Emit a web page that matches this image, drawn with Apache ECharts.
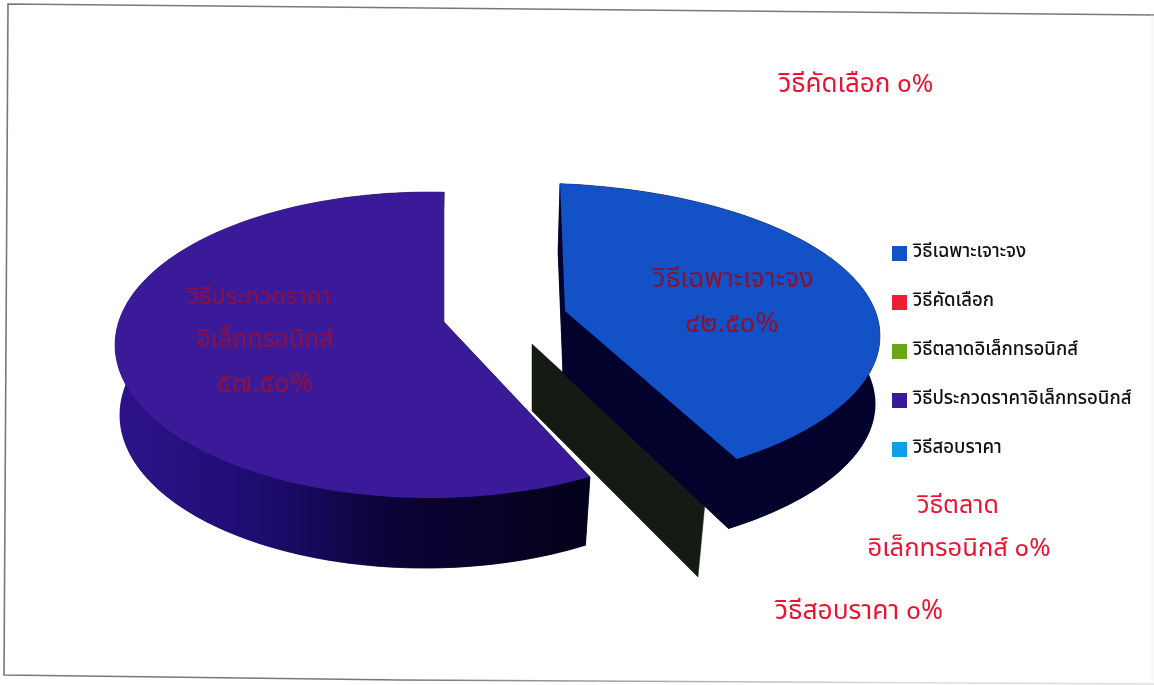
<!DOCTYPE html>
<html><head><meta charset="utf-8">
<style>html,body{margin:0;padding:0;background:#fff}#c{width:1154px;height:685px}</style>
<script src="https://cdn.jsdelivr.net/npm/echarts@6/dist/echarts.min.js"></script></head>
<body><div id="c"></div>
<script>
// ---- data ----
const categories = ['วิธีเฉพาะเจาะจง','วิธีคัดเลือก','วิธีตลาดอิเล็กทรอนิกส์','วิธีประกวดราคาอิเล็กทรอนิกส์','วิธีสอบราคา'];
const values = [42.5, 0, 0, 57.5, 0];
const decimals = [2, 0, 0, 2, 0];
const topColors = ['#1252c6','#ee1c34','#6aa51c','#3b1a9a','#0e9fe6'];

// ---- layout: how each slice is projected (not data) ----
const FONT = '"Noto Sans Thai","Noto Sans Thai Looped","Loma","Noto Sans","DejaVu Sans",sans-serif';
const geometry = [
  {top:{apex:[565,311], c:[527,336], a:353, b:153, ray:2.20, lean:0.039},
   bot:{apex:[563,373], c:[525,404], a:350, b:153, ray:2.01, lean:0.04}, side:'#02022c'},
  null,
  {top:{apex:[532,344], c:[538,372], a:323, b:153, ray:2.135, lean:0},
   bot:{apex:[532,411], c:[531,446], a:323, b:153, ray:1.9625, lean:0}, side:'#151b14', cutOnly:true},
  {top:{apex:[444,322], c:[430,345], a:315, b:153, ray:1.85, lean:0},
   bot:{apex:[442,384], c:[425,415], a:305, b:153, ray:1.747, lean:0},
   side:new echarts.graphic.LinearGradient(130,0,560,0,[
     {offset:0,color:'#2c1288'},{offset:0.3,color:'#1e0c70'},{offset:0.6,color:'#0c0338'},{offset:1,color:'#04011c'}],true)},
  null
];
const labelLayout = [
  {lines:[['วิธีเฉพาะเจาะจง',733,282,27],['%v',732,326,28]], color:'#8a1230'},
  {lines:[['วิธีคัดเลือก %v',856,87,26]], color:'#ea1432'},
  {lines:[['วิธีตลาด',958,508,25],['อิเล็กทรอนิกส์ %v',959,551,25.6]], color:'#ea1432'},
  {lines:[['วิธีประกวดราคา',259,299,23.6],['อิเล็กทรอนิกส์',265,342,25],['%v',265,386,28]], color:'#8c1040'},
  {lines:[['วิธีสอบราคา %v',859,614,26.4]], color:'#ea1432'}
];

const thaiDigits = '๐๑๒๓๔๕๖๗๘๙';
function thaiNum(v,d){return v.toFixed(d).replace(/\d/g,m=>thaiDigits[+m]);}
const total = values.reduce((a,b)=>a+b,0);

function rayHit(g,theta){
  const u=Math.sin(theta), v=-Math.cos(theta);
  const dx=g.ray*u+g.lean*v, dy=v;
  const px=(g.apex[0]-g.c[0])/g.a, py=(g.apex[1]-g.c[1])/g.b, qx=dx/g.a, qy=dy/g.b;
  const A=qx*qx+qy*qy, B=2*(px*qx+py*qy), C=px*px+py*py-1;
  const t=(-B+Math.sqrt(B*B-4*A*C))/(2*A);
  return [g.apex[0]+t*dx, g.apex[1]+t*dy];
}
function ellAngle(g,p){return Math.atan2((p[0]-g.c[0])/g.a, -(p[1]-g.c[1])/g.b);}
function arcPoints(g,t0,t1){
  let a0=ellAngle(g,rayHit(g,t0)), a1=ellAngle(g,rayHit(g,t1));
  while(a1<=a0)a1+=Math.PI*2;
  const pts=[], n=120;
  for(let i=0;i<=n;i++){
    const a=a0+(a1-a0)*i/n;
    pts.push([g.c[0]+g.a*Math.sin(a), g.c[1]-g.b*Math.cos(a)]);
  }
  return pts;
}
function polyEl(points,color,z2){return {type:'polygon',z2:z2,shape:{points:points},style:{fill:color,stroke:color,lineWidth:0.5}};}

function makeRender(idx){
  return function(params){
    const children=[];
    let before=0; for(let i=0;i<idx;i++) before+=values[i];
    const t0=before/total*Math.PI*2, t1=(before+values[idx])/total*Math.PI*2;
    const g=geometry[idx];
    if(g){
      if(g.cutOnly){
        children.push(polyEl([g.top.apex,rayHit(g.top,t0),rayHit(g.bot,t0),g.bot.apex],g.side,1));
      }else{
        const arc=arcPoints(g.top,t0,t1), low=arcPoints(g.bot,t0,t1);
        children.push(polyEl([g.bot.apex].concat(low),g.side,1));
        children.push(polyEl(arc.concat(low.slice().reverse()),g.side,1));
        children.push(polyEl([g.top.apex,arc[0],low[0],g.bot.apex],g.side,1));
        children.push(polyEl([g.top.apex,arc[arc.length-1],low[low.length-1],g.bot.apex],g.side,1));
        children.push({type:'polygon',z2:2,shape:{points:[g.top.apex].concat(arc)},style:{fill:topColors[idx]}});
      }
    }
    const pct=thaiNum(values[idx],decimals[idx])+'%';
    labelLayout[idx].lines.forEach(l=>{
      children.push({type:'text',z2:10,x:l[1],y:l[2],style:{text:l[0].replace('%v',pct),fill:labelLayout[idx].color,
        font:'400 '+l[3]+'px '+FONT,textAlign:'center',textVerticalAlign:'middle'}});
    });
    return {type:'group',children:children};
  };
}

const chart=echarts.init(document.getElementById('c'),null,{renderer:'canvas'});
const zOrder=[5,1,3,2,1];
chart.setOption({
  animation:false,
  backgroundColor:'#ffffff',
  legend:{
    orient:'vertical',left:887,top:239,itemWidth:15,itemHeight:15,itemGap:30,icon:'rect',
    data:categories,selectedMode:false,
    textStyle:{fontFamily:FONT,fontSize:18.6,fontWeight:500,color:'#111111',padding:[0,0,0,1]}
  },
  graphic:[
    {type:'polyline',silent:true,shape:{points:[[1154,15],[8,4],[4,675],[400,680]]},style:{stroke:'#77777f',lineWidth:1.6,fill:null}},
    {type:'polyline',silent:true,shape:{points:[[400,680],[1154,684]]},style:{lineWidth:1.4,fill:null,
      stroke:new echarts.graphic.LinearGradient(400,0,900,0,[{offset:0,color:'#77777f'},{offset:1,color:'#dcdcd6'}],true)}},
    {type:'line',silent:true,shape:{x1:1152,y1:15,x2:1152,y2:684},style:{stroke:'#eeeeee',lineWidth:1}}
  ],
  series:categories.map((name,i)=>({
    type:'custom',name:name,coordinateSystem:'none',z:zOrder[i],
    itemStyle:{color:topColors[i]},
    renderItem:makeRender(i),data:[values[i]],silent:true
  }))
});
</script></body></html>
